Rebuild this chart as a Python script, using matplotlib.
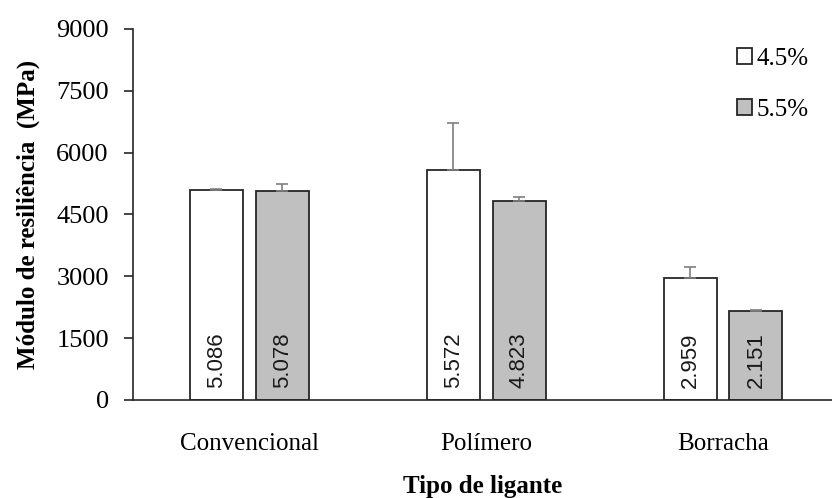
import numpy as np
import matplotlib.pyplot as plt

categorias = ["Convencional", "Polímero", "Borracha"]
mr_45 = [5086, 5572, 2959]
mr_55 = [5078, 4823, 2151]
err_45 = [20, 1140, 275]
err_55 = [160, 100, 30]
rotulos_45 = ["5.086", "5.572", "2.959"]
rotulos_55 = ["5.078", "4.823", "2.151"]

plt.rcParams['font.family'] = ['Liberation Serif', 'DejaVu Serif']

fig = plt.figure(figsize=(8.32, 4.98), dpi=100)
ax = fig.add_axes([0.16, 0.197, 0.84, 0.745])

x = np.arange(len(categorias))
w = 0.224
off = 0.139

ax.bar(x - off, mr_45, w, color="white", edgecolor="#262626", linewidth=1.3, label="4.5%")
ax.bar(x + off, mr_55, w, color="#c0c0c0", edgecolor="#262626", linewidth=1.3, label="5.5%")
ax.errorbar(x - off, mr_45, yerr=[np.zeros(3), err_45], fmt="none", ecolor="#7f7f7f",
            elinewidth=1.2, capsize=4, capthick=1.2)
ax.errorbar(x + off, mr_55, yerr=[np.zeros(3), err_55], fmt="none", ecolor="#7f7f7f",
            elinewidth=1.2, capsize=4, capthick=1.2)

for i in range(len(categorias)):
    ax.text(x[i] - off, 290, rotulos_45[i], rotation=90, ha="center", va="bottom",
            fontsize=16, family="Liberation Sans", color="#1a1a1a")
    ax.text(x[i] + off, 290, rotulos_55[i], rotation=90, ha="center", va="bottom",
            fontsize=16, family="Liberation Sans", color="#1a1a1a")

ax.set_ylim(0, 9000)
ax.set_xlim(-0.49, 2.46)
ax.set_yticks(np.arange(0, 9001, 1500))
ax.set_xticks(x)
ax.set_xticklabels(categorias, fontsize=18)
ax.tick_params(axis="y", labelsize=19, direction="out", length=6.5, width=1.2,
               color="#262626", pad=11)
ax.tick_params(axis="x", length=0, pad=24)
ax.spines["top"].set_visible(False)
ax.spines["right"].set_visible(False)
ax.spines["left"].set_linewidth(1.2)
ax.spines["bottom"].set_linewidth(1.2)
ax.spines["left"].set_color("#262626")
ax.spines["bottom"].set_color("#262626")

ax.set_ylabel("Módulo de resiliência  (MPa)", fontsize=18, fontweight="bold", labelpad=12)
ax.set_xlabel("Tipo de ligante", fontsize=18, fontweight="bold", labelpad=14)

ax.legend(loc="upper right", bbox_to_anchor=(0.999, 1.01), frameon=False, fontsize=18,
          handlelength=0.6, handleheight=0.6, handletextpad=0.2, labelspacing=1.18)

fig.savefig("out.png", dpi=100)
